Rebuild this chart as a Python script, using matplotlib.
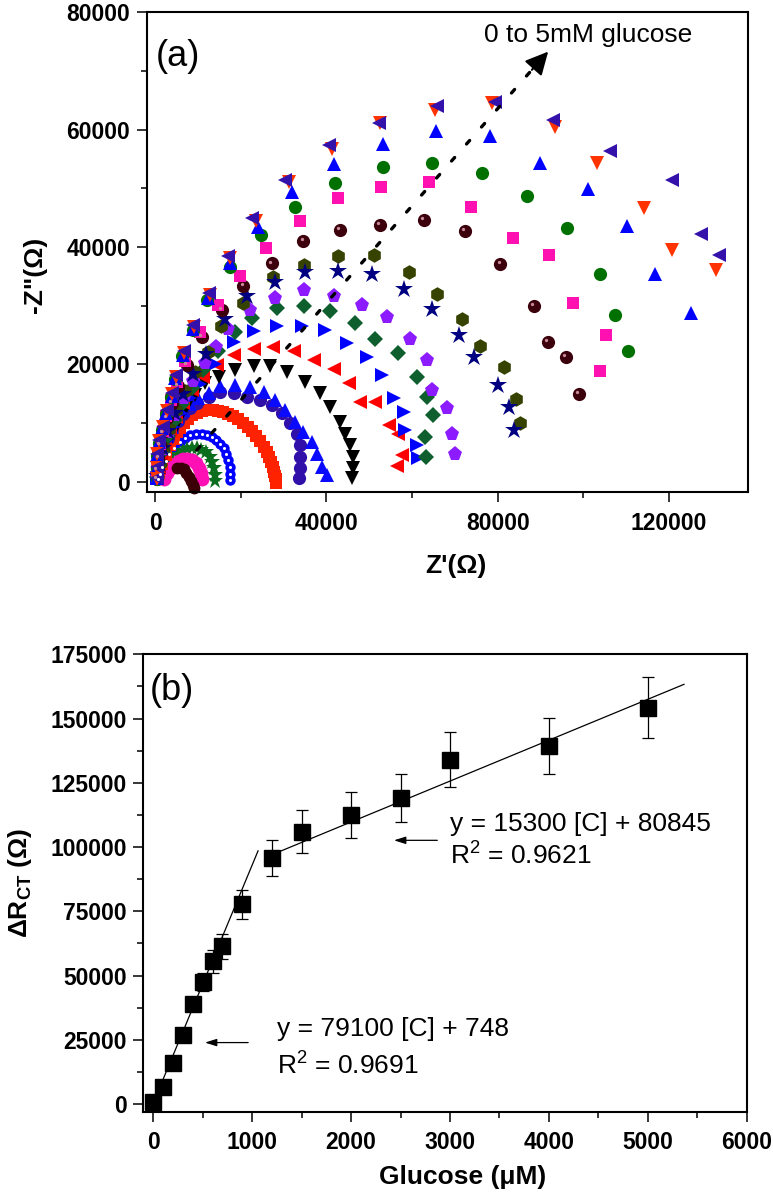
import numpy as np
import matplotlib
matplotlib.use("Agg")
import matplotlib.pyplot as plt
from matplotlib.ticker import MultipleLocator
from matplotlib.transforms import offset_copy

plt.rcParams['font.family'] = ['Liberation Sans', 'DejaVu Sans']
plt.rcParams['mathtext.default'] = 'regular'

# ---------------- Panel (a): Nyquist data, Z' and -Z'' in kOhm ----------------
bc_zre = [0.6, 1.0, 1.6, 2.4, 3.3, 4.3, 5.8, 7.0, 8.2, 9.6, 10.9, 12.1, 13.2, 14.3, 15.2, 16.0, 16.6, 17.1, 17.4, 17.4, 17.4]
bc_zim = [0.4, 1.4, 2.5, 3.6, 4.7, 5.7, 6.7, 7.5, 8.0, 8.2, 8.2, 8.0, 7.7, 7.2, 6.5, 5.7, 4.8, 3.7, 2.6, 1.4, 0.3]

gs_zre = [1.0, 2.0, 3.0, 4.2, 5.3, 6.4, 7.5, 8.6, 9.7, 10.8, 11.8, 12.7, 13.3, 13.7, 13.9, 13.9]
gs_zim = [0.4, 1.5, 2.6, 3.6, 4.5, 5.2, 5.6, 5.8, 5.8, 5.5, 5.0, 4.2, 3.3, 2.3, 1.2, 0.2]

pk_zre = [2.0, 2.8, 3.6, 4.5, 5.5, 6.5, 7.5, 8.5, 9.4, 10.1, 10.6, 10.9]
pk_zim = [0.5, 1.5, 2.3, 3.0, 3.5, 3.8, 3.9, 3.7, 3.2, 2.4, 1.5, 0.5]

db_zre = [5.0, 5.9, 6.6, 7.2, 7.8, 8.3, 8.7, 9.0]
db_zim = [2.3, 2.4, 2.1, 1.5, 0.8, 0.1, -0.5, -1.0]

rs_zre = [0.8, 1.5, 2.4, 3.5, 4.3, 5.1, 5.8, 6.6, 7.6, 8.6, 9.7, 11.0, 12.2, 13.4, 14.6, 15.8, 17.0,
          18.2, 19.4, 20.5, 21.6, 22.6, 23.6, 24.5, 25.3, 26.0, 26.6, 27.1, 27.5, 27.8, 28.0, 28.1, 28.1]
rs_zim = [1.5, 3.0, 4.6, 6.2, 7.3, 8.4, 9.2, 10.0, 10.7, 11.3, 11.7, 12.0, 12.2, 12.2, 12.1, 11.9, 11.6,
          11.2, 10.7, 10.1, 9.4, 8.6, 7.8, 6.9, 6.0, 5.1, 4.2, 3.3, 2.5, 1.7, 1.0, 0.4, -0.2]

ic_zre = [0.5, 0.8, 1.3, 2.0, 2.9, 4.0, 5.2, 6.5, 8.0, 9.7, 12.5, 15.2, 18.3, 21.4, 24.5, 27.3, 29.6, 31.5, 33.1, 33.9, 33.9, 33.7, 33.5]
ic_zim = [1.0, 2.5, 4.2, 5.9, 7.5, 9.0, 10.3, 11.5, 12.6, 13.4, 14.5, 15.3, 15.1, 14.5, 13.9, 13.1, 11.7, 10.0, 8.2, 6.3, 4.3, 2.3, 0.6]

bt_zre = [0.4, 0.7, 1.1, 1.8, 2.7, 3.8, 5.0, 6.4, 8.0, 10.0, 12.5, 15.2, 18.7, 22.2, 25.3, 28.0, 30.4, 32.7, 34.6, 36.6, 37.8, 38.9, 40.1]
bt_zim = [1.1, 2.7, 4.4, 6.1, 7.8, 9.4, 10.8, 12.2, 13.3, 14.3, 15.1, 16.3, 16.5, 16.2, 15.3, 13.9, 12.2, 10.2, 8.5, 6.8, 4.8, 2.6, 1.1]

kv_zre = [0.4, 0.8, 1.5, 2.6, 3.9, 5.4, 7.2, 9.3, 11.7, 14.8, 18.7, 23.0, 26.9, 30.8, 35.0, 38.6, 40.9, 43.2, 44.4, 45.6, 46.3, 46.3, 46.0]
kv_zim = [0.5, 2.0, 3.8, 5.8, 8.0, 10.2, 12.5, 14.8, 16.8, 17.9, 19.0, 19.7, 19.7, 18.7, 17.0, 15.1, 12.8, 10.2, 8.2, 6.3, 4.3, 2.3, 0.6]

rl_zre = [0.4, 0.8, 1.4, 2.3, 3.4, 4.8, 6.5, 8.5, 11.2, 14.4, 18.3, 23.0, 27.6, 32.3, 37.0, 41.7, 45.2, 47.9, 51.4, 54.5, 56.8, 57.6, 56.5]
rl_zim = [0.6, 2.3, 4.3, 6.5, 8.8, 11.1, 13.4, 15.6, 17.8, 19.9, 21.6, 22.7, 22.9, 22.2, 20.7, 19.3, 16.8, 13.6, 13.6, 9.7, 8.2, 4.6, 2.7]

br_zre = [0.5, 1.0, 1.7, 2.8, 4.2, 5.9, 8.0, 10.5, 14.0, 18.3, 23.0, 28.4, 34.3, 39.7, 44.8, 49.5, 53.0, 55.7, 58.0, 58.4, 61.1, 61.5]
br_zim = [0.7, 2.5, 4.7, 7.0, 9.4, 11.8, 14.2, 16.6, 20.0, 23.9, 25.7, 26.5, 26.5, 25.9, 23.6, 21.2, 18.2, 14.2, 11.9, 8.8, 6.3, 4.0]

gd_zre = [0.5, 1.0, 1.8, 3.0, 4.5, 6.3, 8.5, 11.2, 14.6, 18.7, 22.6, 28.4, 34.7, 40.9, 46.7, 51.4, 56.8, 61.1, 63.5, 65.0, 63.1, 63.3]
gd_zim = [0.8, 2.8, 5.2, 7.8, 10.5, 13.2, 16.0, 19.0, 22.3, 25.6, 27.9, 29.6, 29.9, 29.1, 27.0, 24.4, 21.9, 17.9, 14.5, 11.4, 7.7, 4.3]

pp_zre = [0.5, 1.0, 1.9, 3.1, 4.7, 6.6, 8.9, 11.6, 14.2, 17.1, 22.2, 28.0, 34.7, 41.7, 48.3, 54.1, 59.6, 63.5, 64.6, 68.2, 69.3, 70.1]
pp_zim = [0.8, 3.0, 5.6, 8.4, 11.3, 14.2, 17.2, 20.2, 23.0, 26.1, 29.3, 31.4, 32.6, 31.7, 30.1, 28.0, 24.4, 20.7, 15.6, 12.5, 8.2, 4.8]

oh_zre = [0.5, 1.0, 1.9, 3.2, 4.8, 6.9, 9.3, 12.4, 15.3, 20.5, 27.6, 34.7, 42.8, 51.0, 59.2, 65.8, 71.7, 75.9, 81.4, 84.2, 85.3]
oh_zim = [0.9, 3.2, 6.0, 9.0, 12.2, 15.4, 18.7, 22.1, 26.5, 30.5, 34.9, 36.9, 38.4, 38.6, 35.8, 32.0, 27.7, 23.1, 19.6, 14.1, 10.0]

ns_zre = [0.5, 1.0, 1.8, 3.0, 4.5, 6.5, 8.8, 11.8, 16.4, 21.4, 28.0, 35.0, 42.8, 50.6, 58.0, 64.6, 70.9, 74.4, 80.0, 82.7, 83.9]
ns_zim = [0.9, 3.1, 5.8, 8.7, 11.8, 15.0, 18.3, 21.8, 27.8, 31.7, 34.1, 35.7, 36.0, 35.4, 32.8, 29.4, 25.0, 21.3, 16.5, 12.8, 8.8]

bb_zre = [0.3, 0.4, 0.7, 1.1, 1.8, 2.7, 3.8, 5.2, 7.3, 10.9, 15.6, 20.6, 27.3, 34.6, 43.1, 52.4, 62.7, 72.4, 80.6, 88.4, 91.7, 96.0, 98.9]
bb_zim = [0.5, 2.1, 4.1, 6.2, 8.4, 10.8, 13.5, 16.4, 19.9, 24.7, 29.3, 33.4, 37.2, 41.1, 42.9, 43.8, 44.6, 42.8, 37.1, 29.9, 23.9, 21.3, 14.9]

ps_zre = [0.3, 0.4, 0.6, 1.0, 1.7, 2.6, 3.7, 5.0, 7.0, 10.5, 14.6, 19.7, 25.9, 33.7, 42.6, 52.8, 63.9, 73.8, 83.7, 92.1, 97.7, 105.4, 103.8]
ps_zim = [0.5, 2.2, 4.3, 6.4, 8.7, 11.2, 14.0, 17.0, 20.6, 25.6, 30.1, 35.1, 39.8, 44.4, 48.3, 50.2, 51.1, 46.9, 41.6, 38.6, 30.5, 25.0, 18.9]

gc_zre = [0.3, 0.3, 0.4, 0.8, 1.5, 2.4, 3.6, 4.5, 6.3, 8.7, 12.2, 17.5, 24.7, 32.7, 42.1, 53.2, 64.7, 76.3, 86.8, 96.2, 104.0, 107.4, 110.4]
gc_zim = [0.5, 2.3, 4.4, 6.6, 8.9, 11.6, 14.5, 17.5, 21.5, 25.8, 31.0, 36.6, 42.0, 46.9, 50.9, 53.7, 54.3, 52.7, 48.7, 43.3, 35.4, 28.5, 22.2]

bT_zre = [0.3, 0.3, 0.5, 0.9, 1.6, 2.6, 3.8, 4.6, 6.4, 8.7, 12.3, 17.5, 24.1, 31.9, 41.8, 53.2, 65.7, 78.3, 90.0, 101.1, 110.2, 116.7, 125.2]
bT_zim = [0.6, 2.4, 4.6, 6.8, 9.1, 11.8, 14.7, 17.7, 21.6, 26.0, 31.3, 37.2, 43.5, 49.3, 54.1, 57.5, 59.8, 58.9, 54.3, 49.9, 43.6, 35.4, 28.8]

rv_zre = [0.3, 0.3, 0.5, 0.9, 1.7, 2.7, 3.9, 4.9, 6.8, 9.1, 12.8, 17.4, 23.6, 31.3, 41.3, 52.6, 65.4, 78.7, 93.5, 103.2, 114.1, 120.7, 131.1]
rv_zim = [0.5, 2.4, 4.7, 7.0, 9.3, 12.0, 14.9, 17.9, 21.9, 26.4, 31.8, 38.1, 44.4, 51.1, 56.7, 61.2, 63.4, 64.5, 60.5, 54.3, 46.6, 39.5, 36.1]

nl_zre = [0.3, 0.3, 0.5, 0.9, 1.7, 2.7, 3.9, 4.8, 6.6, 8.9, 12.5, 17.1, 22.6, 30.4, 40.5, 52.2, 65.8, 79.4, 92.9, 106.3, 120.7, 127.6, 131.8]
nl_zim = [0.6, 2.5, 4.8, 7.1, 9.4, 12.2, 15.1, 18.2, 22.2, 26.7, 32.1, 38.4, 44.9, 51.5, 57.4, 61.1, 64.0, 64.8, 61.7, 56.4, 51.4, 42.3, 38.6]

# trend arrow (kOhm)
arrow_zre = [9.7, 88.0]
arrow_zim = [5.4, 70.2]
arrow_tip = [91.8, 73.3]

# ---------------- Panel (b) data ----------------
glucose_uM = [0, 100, 200, 300, 400, 500, 600, 700, 900, 1200, 1500, 2000, 2500, 3000, 4000, 5000]
delta_rct = [700, 6500, 16100, 27000, 38900, 47300, 55600, 61300, 77700, 95900, 106000, 112500,
             119200, 133900, 139300, 154200]
rct_err = [500, 800, 1000, 1200, 2000, 3500, 4500, 5000, 5700, 7000, 8500, 9000, 9400, 10700, 11000, 11800]
fit1_x = [90, 1060]
fit1_y = [8700, 98500]
fit2_x = [1200, 5366]
fit2_y = [97000, 163300]

# ---------------- styles ----------------
series = [
    (bc_zre, bc_zim, 'o', '#0000FF', 7.5),
    (gs_zre, gs_zim, '*', '#0B6E1F', 12.0),
    (pk_zre, pk_zim, 'o', '#FF10B4', 10.0),
    (db_zre, db_zim, 'o', '#3A0006', 8.5),
    (rs_zre, rs_zim, 's', '#FF2200', 8.5),
    (ic_zre, ic_zim, 'o', '#3010A8', 9.5),
    (bt_zre, bt_zim, '^', '#0A0AFF', 10.5),
    (kv_zre, kv_zim, 'v', '#000000', 10.5),
    (rl_zre, rl_zim, '<', '#FF0000', 10.5),
    (br_zre, br_zim, '>', '#0000FF', 10.5),
    (gd_zre, gd_zim, 'D', '#0E5E2E', 8.0),
    (pp_zre, pp_zim, 'p', '#8C1CFF', 11.0),
    (oh_zre, oh_zim, 'h', '#364300', 10.5),
    (ns_zre, ns_zim, '*', '#000080', 13.5),
    (bb_zre, bb_zim, 'o', '#3C000C', 9.5),
    (ps_zre, ps_zim, 's', '#FF10B0', 8.5),
    (gc_zre, gc_zim, 'o', '#007000', 9.5),
    (bT_zre, bT_zim, '^', '#0000FF', 10.5),
    (rv_zre, rv_zim, 'v', '#FF3300', 10.5),
    (nl_zre, nl_zim, '<', '#3311AA', 10.5),
]

fig = plt.figure(figsize=(7.73, 11.95), dpi=100)
axa = fig.add_axes([0.1898, 0.588, 0.9677 - 0.1898, 0.9897 - 0.588])
axb = fig.add_axes([0.1854, 0.0697, 0.966 - 0.1854, 0.4525 - 0.0697])

K = 1000.0
for zre, zim, mk, col, ms in series:
    axa.plot(np.array(zre) * K, np.array(zim) * K, linestyle='none', marker=mk,
             color=col, markersize=ms, markeredgewidth=0, clip_on=False)

# white centres for the small blue circles, highlights for brown spheres
axa.plot(np.array(bc_zre) * K, np.array(bc_zim) * K, linestyle='none', marker='o',
         color='white', markersize=2.2, markeredgewidth=0)
hl = offset_copy(axa.transData, fig=fig, x=-1.2, y=1.4, units='points')
axa.plot(np.array(bb_zre) * K, np.array(bb_zim) * K, linestyle='none', marker='o',
         color='#C88A9A', markersize=2.4, markeredgewidth=0, transform=hl)

# dotted trend arrow
axa.plot(np.array(arrow_zre) * K, np.array(arrow_zim) * K, color='black', lw=2.4,
         linestyle=(0, (1.4, 5.4)), dash_capstyle='round')
axa.annotate('', xy=(arrow_tip[0] * K, arrow_tip[1] * K),
             xytext=(arrow_zre[1] * K, arrow_zim[1] * K),
             arrowprops=dict(arrowstyle='-|>,head_length=1.4,head_width=0.7',
                             color='black', lw=1.5, shrinkA=0, shrinkB=0))
axa.text(101200, 76100, '0 to 5mM glucose', fontsize=19, ha='center', va='center')
axa.text(5400, 72500, '(a)', fontsize=26, ha='center', va='center')

axa.set_xlim(-2000, 138500)
axa.set_ylim(-1800, 80000)
axa.xaxis.set_major_locator(MultipleLocator(40000))
axa.xaxis.set_minor_locator(MultipleLocator(20000))
axa.yaxis.set_major_locator(MultipleLocator(20000))
axa.yaxis.set_minor_locator(MultipleLocator(10000))
axa.set_xlabel("Z'(Ω)", fontsize=19, fontweight='bold')
axa.set_ylabel('-Z"(Ω)', fontsize=19, fontweight='bold')
axa.xaxis.set_label_coords(0.514, -0.1535)
axa.yaxis.set_label_coords(-0.186, 0.453)
axa.xaxis.label.set_va('center')
axa.yaxis.label.set_va('center')

# ---------------- panel (b) ----------------
axb.errorbar(glucose_uM, delta_rct, yerr=rct_err, fmt='s', color='black', markersize=11.5,
             ecolor='black', elinewidth=0.9, capsize=4.5, capthick=0.9, zorder=3)
axb.plot(fit1_x, fit1_y, color='black', lw=0.9, zorder=2)
axb.plot(fit2_x, fit2_y, color='black', lw=0.9, zorder=2)

axb.annotate('', xy=(523, 23900), xytext=(960, 23900),
             arrowprops=dict(arrowstyle='-|>,head_length=0.7,head_width=0.22', color='black',
                             lw=0.9, shrinkA=0, shrinkB=0))
axb.annotate('', xy=(2434, 102600), xytext=(2872, 102600),
             arrowprops=dict(arrowstyle='-|>,head_length=0.7,head_width=0.22', color='black',
                             lw=0.9, shrinkA=0, shrinkB=0))
axb.text(1248, 29300, 'y = 79100 [C] + 748', fontsize=19, ha='left', va='center')
axb.text(1248, 14800, 'R$^2$ = 0.9691', fontsize=19, ha='left', va='center')
axb.text(3000, 108900, 'y = 15300 [C] + 80845', fontsize=19, ha='left', va='center')
axb.text(3000, 96500, 'R$^2$ = 0.9621', fontsize=19, ha='left', va='center')
axb.text(190, 161000, '(b)', fontsize=26, ha='center', va='center')

axb.set_xlim(-100, 6000)
axb.set_ylim(-3000, 175000)
axb.xaxis.set_major_locator(MultipleLocator(1000))
axb.xaxis.set_minor_locator(MultipleLocator(500))
axb.yaxis.set_major_locator(MultipleLocator(25000))
axb.yaxis.set_minor_locator(MultipleLocator(12500))
axb.set_xlabel('Glucose (μM)', fontsize=19, fontweight='bold')
axb.set_ylabel('ΔR$_{CT}$ (Ω)', fontsize=19, fontweight='bold')
axb.xaxis.set_label_coords(0.53, -0.143)
axb.yaxis.set_label_coords(-0.204, 0.5)
axb.xaxis.label.set_va('center')
axb.yaxis.label.set_va('center')

for ax in (axa, axb):
    for sp in ax.spines.values():
        sp.set_linewidth(1.5)
    ax.tick_params(which='major', direction='out', length=7, width=1.1, labelsize=16.5, pad=5)
    ax.tick_params(which='minor', direction='out', length=4, width=1.1)
    ax.tick_params(axis='x', which='major', pad=7)
    for lab in ax.get_xticklabels() + ax.get_yticklabels():
        lab.set_fontweight('bold')

fig.savefig('out.png', dpi=100)
